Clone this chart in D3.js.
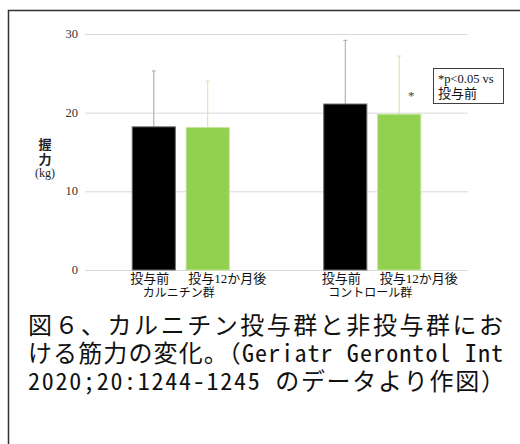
<!DOCTYPE html>
<html>
<head>
<meta charset="utf-8">
<script src="https://cdn.jsdelivr.net/npm/d3@7"></script>
<style>
  html, body { margin: 0; padding: 0; background: #fff; }
  svg { display: block; }
</style>
</head>
<body>
<svg id="chart" width="520" height="444"></svg>
<script>
// Groups and time points
const groups = ["カルニチン群", "コントロール群"];
const periods = ["投与前", "投与12か月後"];
// Mean grip strength (kg) per group, by time point
const carnitineMeans = [18.2, 18.1];
const controlMeans = [21.1, 19.8];
// Standard deviations (upper error bars)
const carnitineSD = [7.1, 5.9];
const controlSD = [8.1, 7.4];
// Y axis ticks
const yTicks = [0, 10, 20, 30];
// Caption lines
const captionLines = [
  "図６、カルニチン投与群と非投与群にお",
  "ける筋力の変化。（Geriatr Gerontol Int",
  "2020;20:1244-1245 のデータより作図）"
];

const rows = [];
groups.forEach((g, gi) => {
  const means = gi === 0 ? carnitineMeans : controlMeans;
  const sds = gi === 0 ? carnitineSD : controlSD;
  periods.forEach((p, pi) => rows.push({ group: g, period: p, mean: means[pi], sd: sds[pi], idx: pi }));
});

const svg = d3.select("#chart");
const jp = "'Noto Sans CJK JP', sans-serif";
const serifJp = "'Liberation Serif', 'Noto Sans CJK JP', serif";

// outer frame
svg.append("rect").attr("x", 8.5).attr("y", 10.5).attr("width", 530).attr("height", 450)
  .attr("fill", "none").attr("stroke", "#333").attr("stroke-width", 1.5);

const x0 = d3.scaleBand().domain(groups).range([85, 468]);
const x1 = d3.scaleBand().domain(periods).range([0, x0.bandwidth()]).paddingInner(0.2).paddingOuter(0.875);
const y = d3.scaleLinear().domain([0, 30]).range([270, 34]);

// grid lines
svg.append("g").selectAll("line").data(yTicks).join("line")
  .attr("x1", 85).attr("x2", 468)
  .attr("y1", d => y(d) + 0.5).attr("y2", d => y(d) + 0.5)
  .attr("stroke", "#d9d9d9").attr("stroke-width", 1);

// y tick labels
svg.append("g").selectAll("text").data(yTicks).join("text")
  .attr("x", 78).attr("y", d => y(d) + 4)
  .attr("text-anchor", "end")
  .attr("font-family", "'Liberation Serif', serif").attr("font-size", 12.5).attr("fill", "#333")
  .text(d => d);

// y axis title, stacked vertically
const yt = svg.append("g").attr("fill", "#222");
yt.append("text").attr("x", 45).attr("y", 149).attr("text-anchor", "middle")
  .attr("font-family", jp).attr("font-size", 13).attr("font-weight", 700).text("握");
yt.append("text").attr("x", 45).attr("y", 164).attr("text-anchor", "middle")
  .attr("font-family", jp).attr("font-size", 13).attr("font-weight", 700).text("力");
yt.append("text").attr("x", 45).attr("y", 177).attr("text-anchor", "middle")
  .attr("font-family", "'Liberation Serif', serif").attr("font-size", 12).text("(kg)");

const fills = ["#000000", "#92d050"];
const strokes = ["#6e6e6e", "#c3e69a"];
const errColors = ["#a6a6a6", "#c9e6a4"];

const bx = d => x0(d.group) + x1(d.period);

// error bars (drawn behind bars)
const eg = svg.append("g");
eg.selectAll("line.v").data(rows).join("line").attr("class", "v")
  .attr("x1", d => bx(d) + x1.bandwidth() / 2).attr("x2", d => bx(d) + x1.bandwidth() / 2)
  .attr("y1", d => y(d.mean)).attr("y2", d => y(d.mean + d.sd))
  .attr("stroke", d => errColors[d.idx]).attr("stroke-width", 1);
eg.selectAll("line.c").data(rows).join("line").attr("class", "c")
  .attr("x1", d => bx(d) + x1.bandwidth() / 2 - 2).attr("x2", d => bx(d) + x1.bandwidth() / 2 + 2)
  .attr("y1", d => y(d.mean + d.sd)).attr("y2", d => y(d.mean + d.sd))
  .attr("stroke", d => errColors[d.idx]).attr("stroke-width", 1);

// bars
svg.append("g").selectAll("rect").data(rows).join("rect")
  .attr("x", d => bx(d)).attr("width", x1.bandwidth())
  .attr("y", d => y(d.mean)).attr("height", d => y(0) - y(d.mean))
  .attr("fill", d => fills[d.idx]).attr("stroke", d => strokes[d.idx]).attr("stroke-width", 1);

// significance mark on control group after 12 months
const sig = rows[3];
svg.append("text").attr("x", bx(sig) + x1.bandwidth() * 0.78).attr("y", y(sig.mean) - 14)
  .attr("text-anchor", "middle").attr("font-family", "'Liberation Serif', serif")
  .attr("font-size", 13).attr("fill", "#444").text("*");

// x labels
const xl = svg.append("g").attr("font-family", serifJp).attr("font-size", 13).attr("fill", "#111");
xl.selectAll("text.p").data(rows).join("text").attr("class", "p")
  .attr("x", d => bx(d) + (d.idx === 0 ? -2 : 2)).attr("y", 283).attr("text-anchor", "start").text(d => d.period);
xl.selectAll("text.g").data(groups).join("text").attr("class", "g")
  .attr("x", d => x0(d) + x0.bandwidth() / 2 - 2).attr("y", 297).attr("text-anchor", "middle")
  .attr("font-family", jp).attr("font-size", 12).text(d => d);

// significance legend
const lg = svg.append("g");
lg.append("rect").attr("x", 433.5).attr("y", 68.5).attr("width", 70).attr("height", 35)
  .attr("fill", "#fff").attr("stroke", "#404040").attr("stroke-width", 1);
lg.append("text").attr("x", 438).attr("y", 83).attr("font-family", "'Liberation Serif', serif")
  .attr("font-size", 12.5).attr("fill", "#111").text("*p<0.05 vs");
lg.append("text").attr("x", 438).attr("y", 98).attr("font-family", jp)
  .attr("font-size", 13).attr("fill", "#111").text("投与前");

// caption
const capLens = [475, 475, 477];
svg.append("g").selectAll("text").data(captionLines).join("text")
  .attr("x", 28).attr("y", (d, i) => 334 + i * 28)
  .attr("font-family", "'Noto Sans Mono CJK JP', 'Noto Sans CJK JP', monospace")
  .attr("font-size", 24).attr("fill", "#111")
  .attr("textLength", (d, i) => capLens[i]).attr("lengthAdjust", "spacing")
  .text(d => d);
</script>
</body>
</html>
